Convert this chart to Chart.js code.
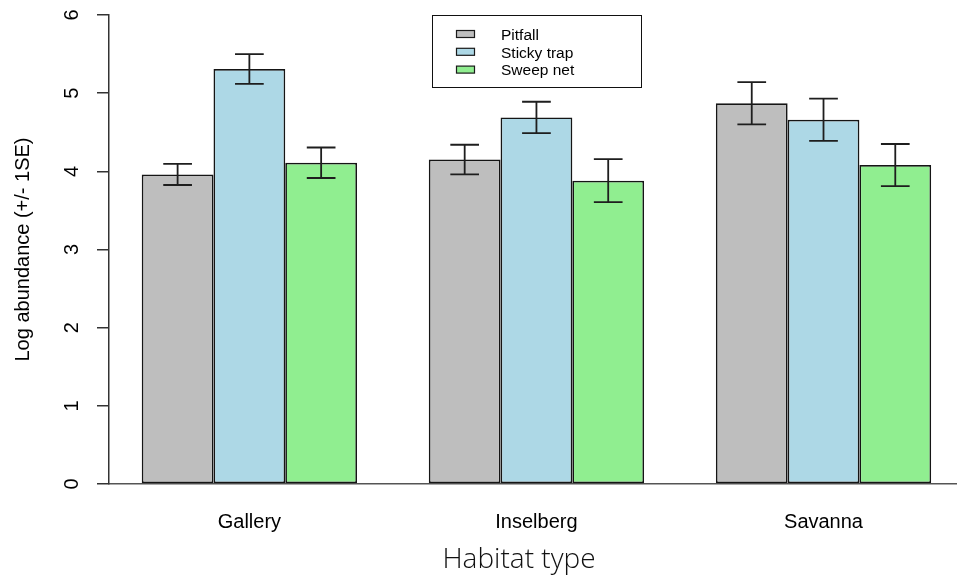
<!DOCTYPE html>
<html>
<head>
<meta charset="utf-8">
<script src="https://cdn.jsdelivr.net/npm/chart.js@4/dist/chart.umd.min.js"></script>
<style>
  html, body { margin: 0; padding: 0; background: #fff; overflow: hidden; }
  canvas { display: block; }
</style>
</head>
<body>
<canvas id="c" width="957" height="579"></canvas>
<script>
// Habitat categories and sampling methods
const habitats = ['Gallery', 'Inselberg', 'Savanna'];
const methods = ['Pitfall', 'Sticky trap', 'Sweep net'];

// Mean log abundance and standard error per method, one value per habitat
const pitfallMean = [3.96, 4.15, 4.87];
const pitfallSE   = [0.135, 0.19, 0.27];
const stickyMean  = [5.31, 4.69, 4.66];
const stickySE    = [0.19, 0.20, 0.27];
const sweepMean   = [4.11, 3.88, 4.08];
const sweepSE     = [0.195, 0.275, 0.27];

// Y axis tick values
const yTicks = [0, 1, 2, 3, 4, 5, 6];

const FONT = "'Liberation Sans', Arial, Helvetica, sans-serif";
const fills = ['#BEBEBE', '#ADD8E6', '#90EE90'];

const toPoints = means => means.map((v, i) => ({ x: i + 1, y: v }));

const series = [
  { label: methods[0], mean: pitfallMean, se: pitfallSE },
  { label: methods[1], mean: stickyMean, se: stickySE },
  { label: methods[2], mean: sweepMean, se: sweepSE }
];

// Whiskers of +/- 1 SE on top of every bar
const errorBars = {
  id: 'errorBars',
  afterDatasetsDraw(chart) {
    const { ctx } = chart;
    const yScale = chart.scales.y;
    ctx.save();
    ctx.strokeStyle = '#1e1e1e';
    ctx.lineWidth = 1.8;
    chart.data.datasets.forEach((ds, di) => {
      const meta = chart.getDatasetMeta(di);
      meta.data.forEach((bar, i) => {
        const m = ds.data[i].y;
        const se = ds.se[i];
        const top = yScale.getPixelForValue(m + se);
        const bot = yScale.getPixelForValue(m - se);
        const half = bar.width * 0.2;
        ctx.beginPath();
        ctx.moveTo(bar.x, top); ctx.lineTo(bar.x, bot);
        ctx.moveTo(bar.x - half, top); ctx.lineTo(bar.x + half, top);
        ctx.moveTo(bar.x - half, bot); ctx.lineTo(bar.x + half, bot);
        ctx.stroke();
      });
    });
    ctx.restore();
  }
};

// Boxed legend inside the plot, listing the datasets
const boxedLegend = {
  id: 'boxedLegend',
  afterDraw(chart) {
    const { ctx } = chart;
    const left = 432.5, top = 15.5, w = 209, h = 72;
    ctx.save();
    ctx.fillStyle = '#fff';
    ctx.fillRect(left, top, w, h);
    ctx.strokeStyle = '#111';
    ctx.lineWidth = 1;
    ctx.strokeRect(left, top, w, h);
    ctx.font = '15.5px ' + FONT;
    ctx.textBaseline = 'middle';
    ctx.textAlign = 'left';
    chart.data.datasets.forEach((ds, i) => {
      const cy = 34 + i * 17.8;
      ctx.fillStyle = ds.backgroundColor;
      ctx.fillRect(456.5, cy - 3.5, 18, 7);
      ctx.strokeStyle = '#1a1a1a';
      ctx.lineWidth = 1.2;
      ctx.strokeRect(456.5, cy - 3.5, 18, 7);
      ctx.fillStyle = '#000';
      ctx.fillText(ds.label, 501, cy + 1.5);
    });
    ctx.restore();
  }
};

// X axis title
const xTitle = {
  id: 'xTitle',
  afterDraw(chart) {
    const { ctx } = chart;
    ctx.save();
    ctx.font = "300 28px 'Open Sans', Lato, sans-serif";
    ctx.fillStyle = '#111';
    ctx.textAlign = 'center';
    ctx.textBaseline = 'middle';
    ctx.fillText('Habitat type', 519, 560);
    ctx.restore();
  }
};

new Chart(document.getElementById('c'), {
  type: 'bar',
  data: {
    datasets: series.map((s, i) => ({
      label: s.label,
      data: toPoints(s.mean),
      se: s.se,
      backgroundColor: fills[i],
      borderColor: '#151515',
      borderWidth: 1.7,
      borderSkipped: false,
      categoryPercentage: 0.75,
      barPercentage: 1.0
    }))
  },
  options: {
    responsive: false,
    animation: false,
    layout: { padding: { top: 15, left: 0, right: 0, bottom: 0 } },
    plugins: {
      legend: { display: false },
      tooltip: { enabled: false }
    },
    scales: {
      x: {
        type: 'linear',
        offset: false,
        min: 0.511,
        max: 3.465,
        afterBuildTicks: s => { s.ticks = habitats.map((h, i) => ({ value: i + 1 })); },
        ticks: {
          callback: v => habitats[Math.round(v) - 1] ?? '',
          font: { family: FONT, size: 20 },
          color: '#000',
          padding: 26,
          autoSkip: false,
          maxRotation: 0
        },
        grid: { display: false, drawTicks: false },
        border: { display: true, color: '#555', width: 1.5 },
        afterFit: s => { s.height = 95; s.paddingLeft = 0; s.paddingRight = 0; }
      },
      y: {
        min: 0,
        max: 6,
        afterBuildTicks: s => { s.ticks = yTicks.map(v => ({ value: v })); },
        ticks: {
          minRotation: 90,
          maxRotation: 90,
          crossAlign: 'center',
          padding: 19,
          font: { family: FONT, size: 20 },
          color: '#000'
        },
        grid: { drawOnChartArea: false, drawTicks: true, tickLength: 12, color: '#333', lineWidth: 1.5 },
        border: { display: true, color: '#333', width: 1.5 },
        title: {
          display: true,
          text: 'Log abundance (+/- 1SE)',
          font: { family: FONT, size: 20 },
          color: '#000',
          padding: { top: 11, bottom: 0 }
        },
        afterFit: s => { s.width = 109; s.paddingTop = 0; s.paddingBottom = 0; }
      }
    }
  },
  plugins: [errorBars, boxedLegend, xTitle]
});
</script>
</body>
</html>
